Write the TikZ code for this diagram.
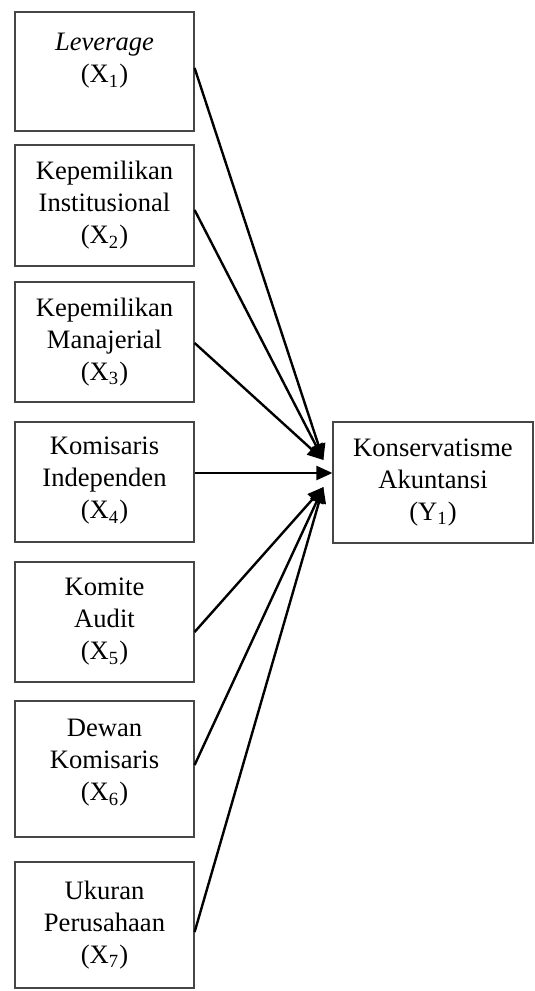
\documentclass[tikz,border=0pt]{standalone}
\usepackage{fontspec}
\setmainfont{Liberation Serif}
\usepackage{tikz}
\usetikzlibrary{arrows.meta, positioning, calc}
\definecolor{boxgrey}{RGB}{70,70,70}

\begin{document}
\begin{tikzpicture}[
  x=0.5pt, y=-0.5pt,
  font=\fontsize{13.3}{16}\selectfont,
  var/.style={rectangle, draw=boxgrey, line width=0.6pt,
              minimum width=89.5pt, align=center, inner sep=0pt},
  dep/.style={rectangle, draw=boxgrey, line width=0.6pt,
              minimum width=100pt, minimum height=60.5pt,
              align=center, inner sep=0pt},
  arr/.style={-{Triangle[length=8pt,width=7pt]}, line width=1.2pt, black}
]
\useasboundingbox (0,0) rectangle (535,991);

% ── Left: independent variables (x centre = 104.5) ──
\node[var, minimum height=59.5pt] (x1) at (104.5, 71.5)
  {\textit{Leverage}\\(X\textsubscript{1})\\[-2.5pt]\mbox{}};
\node[var, minimum height=60.5pt] (x2) at (104.5,205.5)
  {Kepemilikan\\Institusional\\(X\textsubscript{2})};
\node[var, minimum height=60pt]   (x3) at (104.5,342)
  {Kepemilikan\\Manajerial\\(X\textsubscript{3})};
\node[var, minimum height=60pt]   (x4) at (104.5,482)
  {Komisaris\\Independen\\(X\textsubscript{4})\\[-12pt]\mbox{}};
\node[var, minimum height=60pt]   (x5) at (104.5,622)
  {Komite\\Audit\\(X\textsubscript{5})};
\node[var, minimum height=68pt]   (x6) at (104.5,769)
  {Dewan\\Komisaris\\(X\textsubscript{6})\\[-7pt]\mbox{}};
\node[var, minimum height=63pt]   (x7) at (104.5,925)
  {Ukuran\\Perusahaan\\(X\textsubscript{7})};

% ── Right: dependent variable ──
\node[dep] (y1) at (433,482.5)
  {Konservatisme\\Akuntansi\\(Y\textsubscript{1})};

% ── Arrow targets on the left edge of Y ──
\coordinate (inU) at ($(y1.west)+(-4.5pt, 11.25pt)$);
\coordinate (inL) at ($(y1.west)+(-4.5pt,-2.25pt)$);
\coordinate (x4out) at ($(x4.east)+(0,4.5pt)$);

% ── Arrows: X1..X3 → upper target ──
\draw[arr] ([yshift= 1.75pt]x1.east) -- (inU);
\draw[arr] ([yshift=-2.25pt]x2.east) -- (inU);
\draw[arr] ([yshift=-0.5pt]x3.east)  -- (inU);

% ── Arrow: X4 → Y (horizontal) ──
\draw[arr] (x4out) -- (y1.west |- x4out);

% ── Arrows: X5..X7 → lower target ──
\draw[arr] ([yshift=-5pt]x5.east)   -- (inL);
\draw[arr] ([yshift= 2pt]x6.east)   -- (inL);
\draw[arr] ([yshift=-3.5pt]x7.east) -- (inL);

\end{tikzpicture}
\end{document}
